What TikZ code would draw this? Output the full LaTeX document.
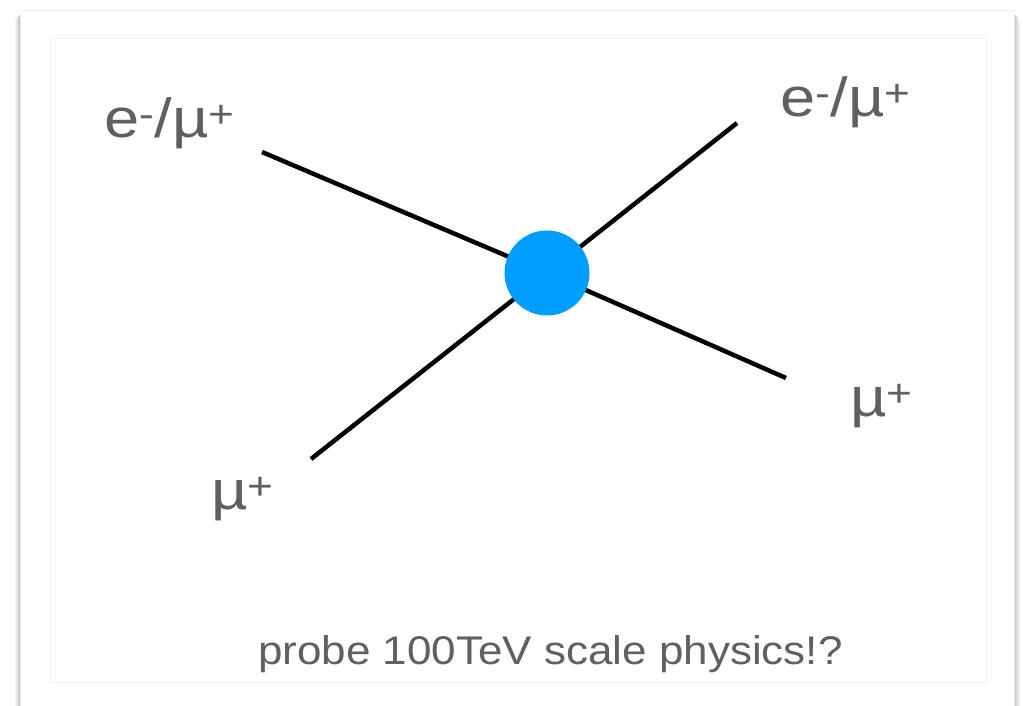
\documentclass[tikz,border=0pt]{standalone}
\usepackage{fontspec}
\setmainfont{Liberation Sans}
\newfontfamily\widesans[FakeStretch=1.15]{Liberation Sans}
\newfontfamily\notesans[FakeStretch=1.1]{Liberation Sans}
\usepackage{xcolor}
\usetikzlibrary{positioning}
\definecolor{lblgray}{RGB}{96,96,96}
\definecolor{blobblue}{RGB}{0,158,255}
\tikzset{
  fx/.style={x=1pt, y=-1pt},
  f card/.style={fill=white, draw=black!6, line width=1pt},
  f panel/.style={draw=black!5, line width=1pt},
  f leg/.style={line width=4.5pt, black},
  f blob/.style={circle, fill=blobblue, minimum size=85pt, inner sep=0pt},
  f lbl/.style={anchor=base west, inner sep=0pt, text=lblgray, font=\widesans\fontsize{55}{60}\selectfont},
  f note/.style={anchor=base west, inner sep=0pt, text=lblgray, font=\notesans\fontsize{40}{46}\selectfont},
}

\begin{document}
\begin{tikzpicture}[fx]
\useasboundingbox (0,0) rectangle (1031,705);
% card with soft side shadow
\foreach \d/\o in {1/0.22,2/0.16,3/0.11,4/0.07,5/0.04,6/0.02}
  \draw[black, opacity=\o, line width=1pt] (20-\d,14+\d) -- (20-\d,720) (1014+\d,14+\d) -- (1014+\d,720);
\draw[f card] (20,10) rectangle (1014,720);
\draw[f panel] (50,38) rectangle (986,682);
% legs
\coordinate (v) at (547,273);
\coordinate (inTL) at (262,152);
\coordinate (inBL) at (311,459);
\coordinate (outTR) at (737,123);
\coordinate (outBR) at (786,378);
\draw[f leg] (inTL) -- (v); \draw[f leg] (inBL) -- (v);
\draw[f leg] (v) -- (outTR); \draw[f leg] (v) -- (outBR);
\node[f blob] (blob) at (v) {};
% labels
\node[f lbl] (lTL) at (104,137) {e\textsuperscript{-}/µ\textsuperscript{+}};
\node[f lbl] (lTR) at (780,116) {e\textsuperscript{-}/µ\textsuperscript{+}};
\node[f lbl] (lBR) at (850,416) {µ\textsuperscript{+}};
\node[f lbl] (lBL) at (211,509) {µ\textsuperscript{+}};
\node[f note] (note) at (258,664) {probe 100TeV scale physics!?};
\end{tikzpicture}
\end{document}
